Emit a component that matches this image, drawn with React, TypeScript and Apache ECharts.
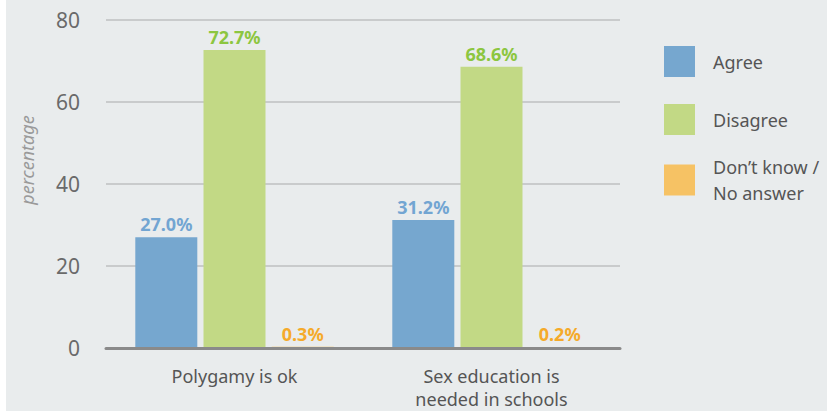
import React, { useEffect, useRef } from "react";
import * as echarts from "echarts";

const categories = ["Polygamy is ok", "Sex education is\nneeded in schools"];
const seriesNames = ["Agree", "Disagree", "Don’t know /\nNo answer"];
const agree = [27.0, 31.2];
const disagree = [72.7, 68.6];
const dontKnow = [0.3, 0.2];
const yTicks = { min: 0, max: 80, interval: 20 };
const yAxisName = "percentage";

const barColors = ["#76a7cf", "#c2d985", "#f6c264"];
const labelColors = ["#72a5d2", "#8cc640", "#f5aa2a"];
const FONT = "Noto Sans";

export default function App() {
  const ref = useRef<HTMLDivElement>(null);
  useEffect(() => {
    if (!ref.current) return;
    const chart = echarts.init(ref.current, null, { renderer: "svg" });
    const values = [agree, disagree, dontKnow];
    const legendText = {
      fontFamily: FONT,
      fontSize: 18,
      color: "#555555",
      lineHeight: 26,
      padding: [0, 0, 0, 13],
    };
    chart.setOption({
      animation: false,
      backgroundColor: "#ffffff",
      textStyle: { fontFamily: FONT },
      graphic: [
        {
          type: "rect",
          z: -10,
          silent: true,
          shape: { x: 6, y: 0, width: 821, height: 411 },
          style: { fill: "#e9eced" },
        },
        {
          type: "text",
          x: 27,
          y: 160,
          rotation: Math.PI / 2,
          silent: true,
          style: {
            text: yAxisName,
            fontFamily: FONT,
            fontSize: 18,
            fontStyle: "italic",
            fill: "#9a9a9a",
            align: "center",
            verticalAlign: "middle",
          },
        },
      ],
      grid: {
        left: 106,
        right: 207,
        top: 20,
        bottom: 63,
        containLabel: false,
        outerBoundsMode: "none",
      },
      legend: [
        {
          orient: "vertical",
          left: 664,
          top: 46,
          padding: 0,
          itemWidth: 31,
          itemHeight: 31,
          itemGap: 27,
          icon: "rect",
          data: seriesNames.slice(0, 2),
          textStyle: legendText,
        },
        {
          orient: "vertical",
          left: 664,
          top: 154,
          padding: 0,
          itemWidth: 31,
          itemHeight: 31,
          icon: "rect",
          data: seriesNames.slice(2),
          textStyle: legendText,
        },
      ],
      xAxis: {
        type: "category",
        data: categories,
        z: 3,
        axisLine: { lineStyle: { color: "#8a8a8a", width: 3 } },
        axisTick: { show: false },
        axisLabel: {
          fontFamily: FONT,
          fontSize: 18,
          color: "#555555",
          lineHeight: 23,
          margin: 16,
        },
      },
      yAxis: {
        type: "value",
        min: yTicks.min,
        max: yTicks.max,
        interval: yTicks.interval,
        axisLine: { show: false },
        axisTick: { show: false },
        axisLabel: {
          fontFamily: FONT,
          fontSize: 21,
          color: "#6a6a6a",
          margin: 26,
        },
        splitLine: { lineStyle: { color: "#c9cbcc", width: 2 } },
      },
      series: seriesNames.map((name, i) => ({
        type: "bar",
        name,
        data: values[i],
        barWidth: 62,
        barGap: "10%",
        itemStyle: { color: barColors[i] },
        label: {
          show: true,
          position: "top",
          distance: 4,
          formatter: (p: any) => p.value.toFixed(1) + "%",
          fontFamily: FONT,
          fontSize: 18,
          fontWeight: "bold",
          color: labelColors[i],
        },
      })),
    });
    return () => chart.dispose();
  }, []);
  return (
    <div
      ref={ref}
      style={{ position: "absolute", left: 0, top: 0, width: 827, height: 411 }}
    />
  );
}
